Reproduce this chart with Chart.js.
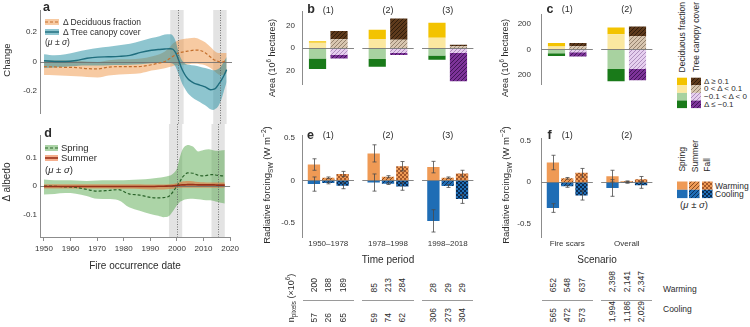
<!DOCTYPE html>
<html>
<head>
<meta charset="utf-8">
<script src="https://cdn.jsdelivr.net/npm/chart.js"></script>
<style>
  html, body { margin: 0; background: #fff; }
  #fig { position: relative; width: 750px; height: 327px; overflow: hidden;
         font-family: "Liberation Sans", Arial, sans-serif; color: #2b2b2b; }
  #fig canvas { position: absolute; }
  .t, .c, .rot, .up { position: absolute; white-space: nowrap; line-height: 1; }
  .t { transform: translate(0, -50%); }
  .c { transform: translate(-50%, -50%); }
  .rot { transform: translate(-50%, -50%) rotate(-90deg); }
  .up { writing-mode: vertical-rl; transform: translateX(-50%) rotate(180deg); }
  .b { font-weight: bold; }
  sub, sup { font-size: 70%; line-height: 0; }
</style>
</head>
<body>
<div id="fig">
  <canvas id="chartA" width="242" height="124" style="left:0px;top:0px"></canvas>
  <canvas id="chartD" width="242" height="203" style="left:0px;top:124px"></canvas>
  <canvas id="chartB" width="230" height="124" style="left:250px;top:0px"></canvas>
  <canvas id="chartE" width="230" height="146" style="left:250px;top:124px"></canvas>
  <canvas id="chartC" width="170" height="124" style="left:490px;top:0px"></canvas>
  <canvas id="chartF" width="170" height="146" style="left:490px;top:124px"></canvas>
</div>
<script>
// ---------- data ----------
const fireYears = [1950, 1954, 1958, 1962, 1966, 1970, 1974, 1978, 1982, 1986,
  1990, 1993, 1995, 1997, 1998, 1999, 2000, 2001, 2002, 2003,
  2004, 2006, 2008, 2010, 2012, 2013, 2014, 2015, 2016, 2017, 2018];

// panel a
const canopyMean = [0.005, 0.0, 0.0, 0.007, 0.022, 0.03, 0.032, 0.035, 0.042, 0.062,
  0.076, 0.082, 0.085, 0.087, 0.083, 0.06, 0.015, -0.035, -0.075, -0.105,
  -0.125, -0.148, -0.16, -0.172, -0.192, -0.19, -0.18, -0.155, -0.128, -0.095, -0.055];
const canopyUpper = [0.05, 0.042, 0.05, 0.065, 0.08, 0.092, 0.1, 0.11, 0.12, 0.14,
  0.16, 0.172, 0.183, 0.185, 0.175, 0.14, 0.07, 0.02, -0.005, -0.018,
  -0.022, -0.028, -0.035, -0.045, -0.055, -0.06, -0.058, -0.05, -0.03, 0.0, 0.03];
const canopyLower = [-0.045, -0.04, -0.035, -0.03, -0.028, -0.027, -0.025, -0.024, -0.022, -0.018,
  -0.012, -0.008, -0.008, -0.01, -0.015, -0.035, -0.08, -0.13, -0.17, -0.2,
  -0.225, -0.255, -0.275, -0.298, -0.325, -0.33, -0.32, -0.3, -0.26, -0.2, -0.14];
const deciduousMean = [-0.035, -0.037, -0.04, -0.041, -0.048, -0.05, -0.038, -0.035, -0.035, -0.034,
  -0.022, -0.01, 0.0, 0.022, 0.035, 0.048, 0.057, 0.062, 0.066, 0.069,
  0.072, 0.078, 0.076, 0.06, 0.03, 0.016, 0.006, 0.0, -0.005, 0.0, 0.01];
const deciduousUpper = [0.011, 0.008, 0.008, 0.005, 0.0, -0.003, 0.008, 0.015, 0.016, 0.02,
  0.034, 0.05, 0.068, 0.1, 0.122, 0.135, 0.145, 0.15, 0.153, 0.156,
  0.158, 0.161, 0.15, 0.13, 0.098, 0.08, 0.065, 0.058, 0.057, 0.057, 0.057];
const deciduousLower = [-0.092, -0.093, -0.097, -0.1, -0.105, -0.108, -0.095, -0.088, -0.085, -0.08,
  -0.062, -0.052, -0.046, -0.036, -0.03, -0.026, -0.023, -0.022, -0.022, -0.02,
  -0.018, -0.016, -0.018, -0.025, -0.045, -0.06, -0.075, -0.088, -0.092, -0.088, -0.08];

// panel d
const springMean = [0, -0.001, -0.003, -0.005, -0.012, -0.018, -0.016, -0.013, -0.028, -0.032,
  -0.04, -0.042, -0.041, -0.036, -0.027, -0.014, 0.0, 0.014, 0.03, 0.04,
  0.046, 0.045, 0.038, 0.036, 0.039, 0.04, 0.04, 0.038, 0.037, 0.036, 0.036];
const springUpper = [0.023, 0.02, 0.02, 0.019, 0.018, 0.019, 0.02, 0.02, 0.021, 0.023,
  0.026, 0.029, 0.032, 0.036, 0.04, 0.048, 0.062, 0.098, 0.127, 0.14,
  0.145, 0.139, 0.122, 0.127, 0.13, 0.128, 0.125, 0.124, 0.125, 0.126, 0.127];
const springLower = [-0.03, -0.028, -0.025, -0.027, -0.035, -0.045, -0.046, -0.05, -0.075, -0.087,
  -0.099, -0.105, -0.11, -0.106, -0.095, -0.082, -0.068, -0.057, -0.052, -0.048,
  -0.046, -0.045, -0.047, -0.049, -0.05, -0.051, -0.053, -0.056, -0.058, -0.06, -0.062];
const summerMean = [-0.002, -0.002, -0.002, -0.002, -0.002, -0.002, -0.002, -0.002, -0.002, -0.002,
  -0.002, -0.001, -0.001, 0.0, 0.0, 0.001, 0.002, 0.003, 0.004, 0.004,
  0.005, 0.005, 0.004, 0.004, 0.004, 0.004, 0.004, 0.003, 0.003, 0.003, 0.003];
const summerUpper = [0.006, 0.006, 0.006, 0.006, 0.006, 0.006, 0.006, 0.006, 0.006, 0.006,
  0.005, 0.005, 0.005, 0.006, 0.007, 0.008, 0.01, 0.013, 0.016, 0.017,
  0.018, 0.017, 0.014, 0.013, 0.012, 0.012, 0.012, 0.012, 0.012, 0.012, 0.012];
const summerLower = [-0.009, -0.009, -0.009, -0.009, -0.009, -0.009, -0.009, -0.01, -0.01, -0.011,
  -0.012, -0.012, -0.012, -0.011, -0.01, -0.009, -0.007, -0.006, -0.006, -0.006,
  -0.006, -0.006, -0.006, -0.006, -0.006, -0.006, -0.006, -0.006, -0.006, -0.006, -0.006];

const decadeTicks = [1950, 1960, 1970, 1980, 1990, 2000, 2010, 2020];
const greyWindows = [[1997, 2002], [2013, 2018]];
const markYears = [2000, 2015.5];

// panel b (10^6 ha), one value per period
const periods = ['1950–1978', '1978–1998', '1998–2018'];
const periodTags = ['(1)', '(2)', '(3)'];
const decidHighB = [1.3, 8.1, 13.3];
const decidLowB = [4.6, 7.9, 9.0];
const decidDropB = [-9.4, -9.8, -6.7];
const decidLossB = [-9.4, -6.9, -3.8];
const canopyHighB = [7.3, 18.8, 1.3];
const canopyLowB = [7.7, 7.3, 1.5];
const canopyDropB = [-6.2, -4.5, -4.6];
const canopyLossB = [-3.1, -1.8, -25.0];

// panel c (10^6 ha), one value per scenario
const scenarios = ['Fire scars', 'Overall'];
const scenarioTags = ['(1)', '(2)'];
const decidHighC = [26, 51];
const decidLowC = [23, 119];
const decidDropC = [-30, -153];
const decidLossC = [-22, -96];
const canopyHighC = [25, 74];
const canopyLowC = [24, 105];
const canopyDropC = [-22, -153];
const canopyLossC = [-34, -88];

// panel e (W m-2), mean and sd per period
const springWarmE = [0.185, 0.315, 0.155];
const springWarmSdE = [0.067, 0.1, 0.067];
const springCoolE = [-0.043, -0.025, -0.472];
const springCoolSdE = [0.083, 0.1, 0.13];
const summerWarmE = [0.03, 0.043, 0.032];
const summerWarmSdE = [0.01, 0.012, 0.008];
const summerCoolE = [-0.03, -0.038, -0.066];
const summerCoolSdE = [0.01, 0.01, 0.016];
const fallWarmE = [0.075, 0.165, 0.08];
const fallWarmSdE = [0.03, 0.055, 0.038];
const fallCoolE = [-0.062, -0.07, -0.216];
const fallCoolSdE = [0.035, 0.045, 0.052];

// panel f (W m-2), mean and sd per scenario
const springWarmF = [0.235, 0.071];
const springWarmSdF = [0.087, 0.071];
const springCoolF = [-0.312, -0.071];
const springCoolSdF = [0.052, 0.1];
const summerWarmF = [0.045, 0.01];
const summerWarmSdF = [0.01, 0.004];
const summerCoolF = [-0.051, -0.01];
const summerCoolSdF = [0.012, 0.004];
const fallWarmF = [0.112, 0.034];
const fallWarmSdF = [0.052, 0.033];
const fallCoolF = [-0.16, -0.037];
const fallCoolSdF = [0.056, 0.038];

// pixel counts (x 10^6), [group][spring, summer, fall]
const periodWarmPixels = [[200, 188, 189], [85, 213, 284], [28, 29, 29]];
const periodCoolPixels = [[57, 26, 65], [59, 74, 62], [306, 273, 304]];
const scenarioWarmPixels = [[652, 548, 637], [2398, 2141, 2347]];
const scenarioCoolPixels = [[565, 472, 573], [1994, 1186, 2029]];

// ---------- helpers ----------
const fig = document.getElementById('fig');
const INK = '#2b2b2b';
const AXIS = '#8c8c8c';
Chart.defaults.font.family = '"Liberation Sans", Arial, sans-serif';
Chart.defaults.color = '#333';

function text(html, x, y, size, cls = 't', extra = '') {
  const d = document.createElement('div');
  d.className = cls;
  d.innerHTML = html;
  d.style.cssText = `left:${x}px;top:${y}px;font-size:${size}px;${extra}`;
  fig.appendChild(d);
  return d;
}
function upText(html, x, bottomY, size) {
  const d = document.createElement('div');
  d.className = 'up';
  d.innerHTML = html;
  d.style.cssText = `left:${x}px;bottom:${327 - bottomY}px;font-size:${size}px`;
  fig.appendChild(d);
}
function smallCanvas(x, y, w, h, draw) {
  const c = document.createElement('canvas');
  c.width = w; c.height = h;
  c.style.left = x + 'px'; c.style.top = y + 'px';
  fig.appendChild(c);
  draw(c.getContext('2d'));
}
function pattern(kind, base, ink) {
  const c = document.createElement('canvas');
  const s = 4;
  c.width = c.height = s;
  const g = c.getContext('2d');
  g.fillStyle = base; g.fillRect(0, 0, s, s);
  g.strokeStyle = ink; g.fillStyle = ink;
  if (kind === 'hatch') {
    g.lineWidth = 0.9;
    g.beginPath();
    g.moveTo(0, s); g.lineTo(s, 0);
    g.moveTo(-1, 1); g.lineTo(1, -1);
    g.moveTo(s - 1, s + 1); g.lineTo(s + 1, s - 1);
    g.stroke();
  } else {
    g.fillRect(0, 0, 2, 2); g.fillRect(2, 2, 2, 2);
  }
  return g.createPattern(c, 'repeat');
}
const fixedTicks = values => scale => { scale.ticks = values.map(v => ({ value: v })); };
const pts = ys => fireYears.map((x, i) => ({ x, y: ys[i] }));

// ---------- colours ----------
const tealBand = 'rgba(30,140,160,0.5)';
const tealLine = '#1f6e7e';
const peachBand = 'rgba(240,150,70,0.5)';
const peachLine = '#c46f2c';
const greenBand = 'rgba(70,160,60,0.45)';
const greenLine = '#2a642a';
const summerBand = 'rgba(236,110,50,0.55)';
const summerLine = '#98301a';

const decidColors = ['#fbe8a0', '#f3c300', '#a8d2a0', '#197a19'];
const canopyFill = [
  pattern('hatch', '#d8c6b0', '#8d7a66'),
  pattern('hatch', '#5e3a1c', '#2a180a'),
  pattern('hatch', '#e6cfef', '#a888b8'),
  pattern('hatch', '#7d3399', '#3a1150')
];
const WARM = '#ef9a55', COOL = '#1f6db5';
const warmFill = [WARM, pattern('hatch', WARM, '#7e4318'), pattern('check', WARM, '#a4582a')];
const coolFill = [COOL, pattern('hatch', COOL, '#0a2a52'), pattern('check', COOL, '#0a2a50')];

// ---------- plugins ----------
const fireWindows = {
  id: 'fireWindows',
  beforeDatasetsDraw(chart, args, o) {
    const { ctx, chartArea, scales: { x } } = chart;
    const top = o.toTop ? 0 : chartArea.top;
    const bottom = o.toBottom ? chart.height : chartArea.bottom;
    ctx.save();
    ctx.fillStyle = 'rgba(0,0,0,0.11)';
    greyWindows.forEach(([a, b]) => {
      const x0 = x.getPixelForValue(a), x1 = x.getPixelForValue(b);
      ctx.fillRect(x0, top, x1 - x0, bottom - top);
    });
    ctx.restore();
  },
  beforeDatasetDraw(chart, args) {
    if (!chart.data.datasets[args.index].zeroBelow) return;
    const { ctx, chartArea, scales: { y } } = chart;
    const y0 = Math.round(y.getPixelForValue(0)) + 0.5;
    ctx.save();
    ctx.strokeStyle = 'rgba(110,110,110,0.85)';
    ctx.lineWidth = 1.1;
    ctx.beginPath(); ctx.moveTo(chartArea.left, y0); ctx.lineTo(chartArea.right, y0); ctx.stroke();
    ctx.restore();
  },
  afterDatasetsDraw(chart, args, o) {
    const { ctx, chartArea, scales: { x } } = chart;
    const top = o.toTop ? 0 : chartArea.top;
    const bottom = o.toBottom ? chart.height : chartArea.bottom;
    ctx.save();
    ctx.strokeStyle = '#555';
    ctx.lineWidth = 0.8;
    ctx.setLineDash([1, 1.5]);
    markYears.forEach(yr => {
      const px = Math.round(x.getPixelForValue(yr)) + 0.5;
      ctx.beginPath(); ctx.moveTo(px, top); ctx.lineTo(px, bottom); ctx.stroke();
    });
    ctx.restore();
  }
};

const groupAxisLines = {
  id: 'groupAxisLines',
  afterDatasetsDraw(chart, args, o) {
    const { ctx, scales: { x, y } } = chart;
    const y0 = Math.round(y.getPixelForValue(0)) + 0.5;
    ctx.save();
    ctx.strokeStyle = 'rgba(120,120,120,0.9)';
    ctx.lineWidth = 1;
    o.groups.forEach(g => {
      ctx.beginPath();
      ctx.moveTo(x.getPixelForValue(g - 0.43), y0);
      ctx.lineTo(x.getPixelForValue(g + 0.43), y0);
      ctx.stroke();
    });
    ctx.restore();
  }
};

const errorBars = {
  id: 'errorBars',
  afterDatasetsDraw(chart) {
    const { ctx, scales: { y } } = chart;
    ctx.save();
    ctx.strokeStyle = '#4a4a4a';
    ctx.lineWidth = 0.8;
    chart.data.datasets.forEach((ds, i) => {
      if (!ds.sd) return;
      chart.getDatasetMeta(i).data.forEach((bar, j) => {
        const v = ds.data[j].y, e = ds.sd[j];
        const y1 = y.getPixelForValue(v + e), y2 = y.getPixelForValue(v - e);
        const xc = Math.round(bar.x) + 0.5;
        ctx.beginPath();
        ctx.moveTo(xc, y1); ctx.lineTo(xc, y2);
        ctx.moveTo(xc - 2, y1); ctx.lineTo(xc + 2, y1);
        ctx.moveTo(xc - 2, y2); ctx.lineTo(xc + 2, y2);
        ctx.stroke();
      });
    });
    ctx.restore();
  }
};

// ---------- line panels (a, d) ----------
function band(upper, lower, color, order) {
  return [
    { data: pts(upper), fill: '+1', backgroundColor: color, borderWidth: 0, pointRadius: 0, order, cubicInterpolationMode: 'monotone' },
    { data: pts(lower), fill: false, borderWidth: 0, pointRadius: 0, order, cubicInterpolationMode: 'monotone' }
  ];
}
function meanLine(ys, color, dash, width, order, zeroBelow) {
  return { data: pts(ys), borderColor: color, borderWidth: width, borderDash: dash, pointRadius: 0,
    fill: false, order, zeroBelow, cubicInterpolationMode: 'monotone' };
}
function lineOptions({ yMin, yMax, yTicks, padding, xAxis, windows }) {
  return {
    responsive: false, animation: false,
    layout: { padding },
    plugins: { legend: { display: false }, tooltip: { enabled: false }, fireWindows: windows },
    scales: {
      x: Object.assign({ type: 'linear', min: 1948.5, max: 2020 }, xAxis),
      y: {
        min: yMin, max: yMax,
        afterFit: s => { s.width = 40; },
        afterBuildTicks: fixedTicks(yTicks),
        grid: { display: false, drawTicks: false },
        border: { color: AXIS },
        ticks: { font: { size: 8 }, padding: 3, callback: v => String(v) }
      }
    }
  };
}

new Chart(document.getElementById('chartA'), {
  type: 'line',
  data: { datasets: [
    ...band(deciduousUpper, deciduousLower, peachBand, 6),
    ...band(canopyUpper, canopyLower, tealBand, 5),
    meanLine(deciduousMean, peachLine, [3, 2], 1.2, 2, true),
    meanLine(canopyMean, tealLine, [], 1.4, 1, false)
  ] },
  options: lineOptions({ yMin: -0.35, yMax: 0.35, yTicks: [-0.2, 0, 0.2],
    padding: { top: 10, bottom: 11, left: 0, right: 10 },
    xAxis: { display: false }, windows: { toBottom: true } }),
  plugins: [fireWindows]
});

new Chart(document.getElementById('chartD'), {
  type: 'line',
  data: { datasets: [
    ...band(springUpper, springLower, greenBand, 6),
    ...band(summerUpper, summerLower, summerBand, 5),
    meanLine(springMean, greenLine, [3, 2], 1.2, 2, true),
    meanLine(summerMean, summerLine, [], 1.6, 1, false)
  ] },
  options: lineOptions({ yMin: -0.18, yMax: 0.18, yTicks: [-0.1, 0, 0.1],
    padding: { top: 11, bottom: 55, left: 0, right: 10 },
    windows: { toTop: true },
    xAxis: {
      afterBuildTicks: fixedTicks(decadeTicks),
      afterFit: s => { s.height = 35; },
      grid: { display: true, drawOnChartArea: false, drawTicks: true, tickLength: 4, color: AXIS },
      border: { color: AXIS },
      ticks: { font: { size: 8 }, padding: 3, autoSkip: false, maxRotation: 0, callback: v => String(v) },
      title: { display: true, text: 'Fire occurrence date', font: { size: 10 }, padding: 0, color: INK }
    } }),
  plugins: [fireWindows]
});

// ---------- bar panels (b, c, e, f) ----------
function areaSets(high, low, drop, loss, stack, fills) {
  return [
    { data: low.map((y, i) => ({ x: i, y })), stack, backgroundColor: fills[0] },
    { data: high.map((y, i) => ({ x: i, y })), stack, backgroundColor: fills[1] },
    { data: drop.map((y, i) => ({ x: i, y })), stack, backgroundColor: fills[2] },
    { data: loss.map((y, i) => ({ x: i, y })), stack, backgroundColor: fills[3] }
  ];
}
function forcingSets(rows) {
  const sets = [];
  rows.forEach(([warm, warmSd, cool, coolSd], k) => {
    sets.push({ data: warm.map((y, i) => ({ x: i, y })), sd: warmSd, stack: 's' + k, backgroundColor: warmFill[k] });
    sets.push({ data: cool.map((y, i) => ({ x: i, y })), sd: coolSd, stack: 's' + k, backgroundColor: coolFill[k] });
  });
  return sets;
}
function barOptions({ groups, yMin, yMax, yTicks, yFmt, yWidth, yPad, padding, xLabels, xTitle, catPct, barPct }) {
  const span = groups.length;
  return {
    responsive: false, animation: false,
    layout: { padding },
    datasets: { bar: { categoryPercentage: catPct, barPercentage: barPct, borderWidth: 0 } },
    plugins: { legend: { display: false }, tooltip: { enabled: false }, groupAxisLines: { groups } },
    scales: {
      x: {
        type: 'linear', stacked: true, min: -0.44, max: span - 1 + 0.44,
        offset: false,
        display: !!xLabels,
        afterBuildTicks: fixedTicks(groups),
        afterFit: s => { s.height = 29; },
        grid: { display: false, drawTicks: false, offset: false },
        border: { display: false },
        ticks: { font: { size: 8 }, padding: 2, autoSkip: false, maxRotation: 0,
          callback: v => (xLabels ? xLabels[v] : '') },
        title: { display: !!xTitle, text: xTitle, font: { size: 10 }, padding: 0, color: INK }
      },
      y: {
        stacked: true, min: yMin, max: yMax,
        afterFit: s => { s.width = yWidth; },
        afterBuildTicks: fixedTicks(yTicks),
        grid: { display: false, drawTicks: false },
        border: { color: AXIS },
        ticks: { font: { size: 8 }, padding: yPad, callback: yFmt }
      }
    }
  };
}

const chartB = new Chart(document.getElementById('chartB'), {
  type: 'bar',
  data: { datasets: [
    ...areaSets(decidHighB, decidLowB, decidDropB, decidLossB, 'dec', decidColors),
    ...areaSets(canopyHighB, canopyLowB, canopyDropB, canopyLossB, 'can', canopyFill)
  ] },
  options: barOptions({ groups: [0, 1, 2], yMin: -32, yMax: 32, yTicks: [-20, 0, 20],
    yFmt: v => String(Math.abs(v)), yWidth: 52, yPad: 7,
    padding: { top: 10, bottom: 11, left: 0, right: 6 }, catPct: 0.72, barPct: 0.8 }),
  plugins: [groupAxisLines]
});

const chartC = new Chart(document.getElementById('chartC'), {
  type: 'bar',
  data: { datasets: [
    ...areaSets(decidHighC, decidLowC, decidDropC, decidLossC, 'dec', decidColors),
    ...areaSets(canopyHighC, canopyLowC, canopyDropC, canopyLossC, 'can', canopyFill)
  ] },
  options: barOptions({ groups: [0, 1], yMin: -270, yMax: 270, yTicks: [-200, 0, 200],
    yFmt: v => String(Math.abs(v)), yWidth: 51, yPad: 10,
    padding: { top: 10, bottom: 11, left: 0, right: 7 }, catPct: 0.72, barPct: 0.8 }),
  plugins: [groupAxisLines]
});

const chartE = new Chart(document.getElementById('chartE'), {
  type: 'bar',
  data: { datasets: forcingSets([
    [springWarmE, springWarmSdE, springCoolE, springCoolSdE],
    [summerWarmE, summerWarmSdE, summerCoolE, summerCoolSdE],
    [fallWarmE, fallWarmSdE, fallCoolE, fallCoolSdE]
  ]) },
  options: barOptions({ groups: [0, 1, 2], yMin: -0.66, yMax: 0.52, yTicks: [-0.5, 0, 0.5],
    yFmt: v => String(v), yWidth: 52, yPad: 7,
    padding: { top: 9, bottom: 4, left: 0, right: 6 },
    xLabels: periods, xTitle: 'Time period', catPct: 0.72, barPct: 0.86 }),
  plugins: [groupAxisLines, errorBars]
});

const chartF = new Chart(document.getElementById('chartF'), {
  type: 'bar',
  data: { datasets: forcingSets([
    [springWarmF, springWarmSdF, springCoolF, springCoolSdF],
    [summerWarmF, summerWarmSdF, summerCoolF, summerCoolSdF],
    [fallWarmF, fallWarmSdF, fallCoolF, fallCoolSdF]
  ]) },
  options: barOptions({ groups: [0, 1], yMin: -0.66, yMax: 0.52, yTicks: [-0.5, 0, 0.5],
    yFmt: v => String(v), yWidth: 51, yPad: 10,
    padding: { top: 9, bottom: 4, left: 0, right: 7 },
    xLabels: scenarios, xTitle: 'Scenario', catPct: 0.72, barPct: 0.86 }),
  plugins: [groupAxisLines, errorBars]
});

// ---------- text, legends, count table ----------
// panel letters
[['a', 46.5, 7], ['b', 311, 8.5], ['c', 550, 8.5], ['d', 48, 132.5], ['e', 310.5, 135], ['f', 549.5, 135]]
  .forEach(([s, x, y]) => text(s, x, y, 12.5, 'c b'));

// group tags above bars
function tags(chart, left, y, labels) {
  labels.forEach((s, g) => text(s, left + chart.scales.x.getPixelForValue(g), y, 9, 'c'));
}
tags(chartB, 250, 10, periodTags);
tags(chartC, 490, 9, scenarioTags);
tags(chartE, 250, 135, periodTags);
tags(chartF, 490, 135, scenarioTags);

// axis titles
text('Change', 7, 60, 9.5, 'rot');
text('Δ albedo', 7, 182, 10, 'rot');
text('Area (10<sup>6</sup> hectares)', 272, 58, 9, 'rot');
text('Area (10<sup>6</sup> hectares)', 505, 58, 9, 'rot');
text('Radiative forcing<sub>SW</sub> (W m<sup>−2</sup>)', 267, 185, 9.5, 'rot');
text('Radiative forcing<sub>SW</sub> (W m<sup>−2</sup>)', 506, 185, 9.5, 'rot');
text('n<sub>pixels</sub> (×10<sup>6</sup>)', 291, 298, 9, 'rot');

// legend a
smallCanvas(45, 19, 14, 6, g => {
  g.fillStyle = peachBand; g.fillRect(0, 0, 14, 6);
  g.strokeStyle = peachLine; g.lineWidth = 1.2; g.setLineDash([3, 2]);
  g.beginPath(); g.moveTo(0, 3); g.lineTo(14, 3); g.stroke();
});
smallCanvas(45, 29, 14, 6, g => {
  g.fillStyle = tealBand; g.fillRect(0, 0, 14, 6);
  g.strokeStyle = tealLine; g.lineWidth = 1.4;
  g.beginPath(); g.moveTo(0, 3); g.lineTo(14, 3); g.stroke();
});
text('Δ Deciduous fraction', 63, 22, 8.5);
text('Δ Tree canopy cover', 63, 32, 8.5);
text('(<i>μ</i> ± <i>σ</i>)', 45, 42, 8.5);

// legend d
smallCanvas(45, 145, 13, 6, g => {
  g.fillStyle = greenBand; g.fillRect(0, 0, 13, 6);
  g.strokeStyle = greenLine; g.lineWidth = 1.2; g.setLineDash([3, 2]);
  g.beginPath(); g.moveTo(0, 3); g.lineTo(13, 3); g.stroke();
});
smallCanvas(45, 155, 13, 6, g => {
  g.fillStyle = summerBand; g.fillRect(0, 0, 13, 6);
  g.strokeStyle = summerLine; g.lineWidth = 1.6;
  g.beginPath(); g.moveTo(0, 3); g.lineTo(13, 3); g.stroke();
});
text('Spring', 61, 148, 9.5);
text('Summer', 61, 158, 9.5);
text('(<i>μ</i> ± <i>σ</i>)', 45, 169.5, 9.5);

// legend c
upText('Deciduous fraction', 682, 72, 8.5);
upText('Tree canopy cover', 695.5, 72, 8.5);
smallCanvas(676, 77, 26, 32, g => {
  const order = [1, 0, 2, 3];
  order.forEach((k, r) => {
    g.fillStyle = decidColors[k]; g.fillRect(1, 0.7 + r * 7.6, 10, 7.6);
    g.fillStyle = canopyFill[k]; g.fillRect(15, 0.7 + r * 7.6, 10, 7.6);
  });
});
text('Δ ≥ 0.1', 704, 81.5, 8);
text('0 &lt; Δ &lt; 0.1', 704, 89, 8);
text('−0.1 &lt; Δ &lt; 0', 704, 97, 8);
text('Δ ≤ −0.1', 704, 105, 8);

// legend f
upText('Spring', 682, 172, 8.5);
upText('Summer', 694.5, 172, 8.5);
upText('Fall', 707, 172, 8.5);
smallCanvas(676, 181, 38, 18, g => {
  [1, 13, 26].forEach((x0, k) => {
    g.fillStyle = warmFill[k]; g.fillRect(x0, 0.5, 10.5, 8.3);
    g.fillStyle = coolFill[k]; g.fillRect(x0, 8.8, 10.5, 8.3);
  });
});
text('Warming', 715, 185.5, 8.5);
text('Cooling', 715, 194, 8.5);
text('(<i>μ</i> ± <i>σ</i>)', 694, 205, 9.5, 'c');

// pixel-count table under e and f
const fmt = n => n.toLocaleString('en-US');
function countTable(chart, left, warm, cool) {
  const x = chart.scales.x;
  [0, 2, 4].forEach((di, s) => {
    chart.getDatasetMeta(di).data.forEach((bar, g) => {
      upText(fmt(warm[g][s]), left + bar.x, 292, 8.5);
      upText(fmt(cool[g][s]), left + bar.x, 322, 8.5);
    });
  });
  warm.forEach((row, g) => {
    const x0 = left + x.getPixelForValue(g - 0.43), x1 = left + x.getPixelForValue(g + 0.43);
    const d = document.createElement('div');
    d.style.cssText = `position:absolute;left:${x0}px;top:300px;width:${x1 - x0}px;height:1px;background:#9a9a9a`;
    fig.appendChild(d);
  });
}
countTable(chartE, 250, periodWarmPixels, periodCoolPixels);
countTable(chartF, 490, scenarioWarmPixels, scenarioCoolPixels);
text('Warming', 663, 289, 8.5);
text('Cooling', 663, 309, 8.5);
</script>
</body>
</html>
